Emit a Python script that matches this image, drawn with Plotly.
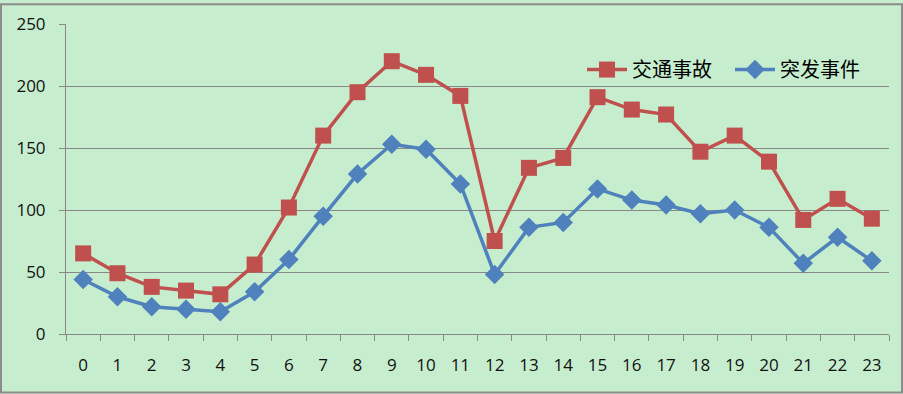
import plotly.graph_objects as go

hours = [str(h) for h in range(24)]
traffic = [65, 49, 38, 35, 32, 56, 102, 160, 195, 220, 209, 192, 75, 134, 142, 191, 181, 177, 147, 160, 139, 92, 109, 93]
incident = [44, 30, 22, 20, 18, 34, 60, 95, 129, 153, 149, 121, 48, 86, 90, 117, 108, 104, 97, 100, 86, 57, 78, 59]
names = ["交通事故", "突发事件"]
yticks = [0, 50, 100, 150, 200, 250]

fig = go.Figure()
fig.add_trace(go.Scatter(x=hours, y=traffic, name=names[0], mode="lines+markers",
                         line=dict(color="#C0504D", width=3.5),
                         marker=dict(symbol="square", size=16, color="#C0504D")))
fig.add_trace(go.Scatter(x=hours, y=incident, name=names[1], mode="lines+markers",
                         line=dict(color="#4F81BD", width=3.5),
                         marker=dict(symbol="diamond", size=15, color="#4F81BD")))

L, R, T, B = 66, 14, 21, 60
W, H = 903, 394
pw, ph = W - L - R, H - T - B

fig.update_layout(
    width=W, height=H,
    margin=dict(l=L, r=R, t=T, b=B),
    paper_bgcolor="#C6EECE", plot_bgcolor="#C6EECE",
    font=dict(family="Open Sans, DejaVu Sans", size=17, color="#111"),
    showlegend=True,
    legend=dict(orientation="h", x=(582 - L) / pw, y=(334 - 67) / ph, yanchor="middle", xanchor="left",
                bgcolor="rgba(0,0,0,0)", font=dict(family="Noto Sans CJK SC", size=20, color="#000"),
                itemwidth=40, tracegroupgap=0, entrywidth=93),
    xaxis=dict(type="category", tickson="boundaries", ticks="outside", ticklen=6, tickcolor="#888",
               showline=True, linecolor="#888", linewidth=1, showgrid=False,
               tickfont=dict(size=17), ticklabelstandoff=16, range=[-0.5, 23.5], fixedrange=True),
    yaxis=dict(range=[0, 250], tickvals=yticks, ticks="outside", ticklen=6, tickcolor="#888",
               showline=True, linecolor="#888", linewidth=1, showgrid=True, gridcolor="#888", gridwidth=1,
               tickfont=dict(size=17), ticklabelstandoff=10, zeroline=False, fixedrange=True),
    shapes=[dict(type="rect", xref="paper", yref="paper",
                 x0=(1 - L) / pw, x1=(W - 1 - L) / pw,
                 y0=(334 - (H - 1)) / ph, y1=(334 - 1) / ph,
                 line=dict(color="#8C8C8C", width=2), layer="above")],
)

fig.write_html("out.html", config={"displayModeBar": False},
               post_script="document.body.style.margin='0';document.body.style.overflow='hidden';")
